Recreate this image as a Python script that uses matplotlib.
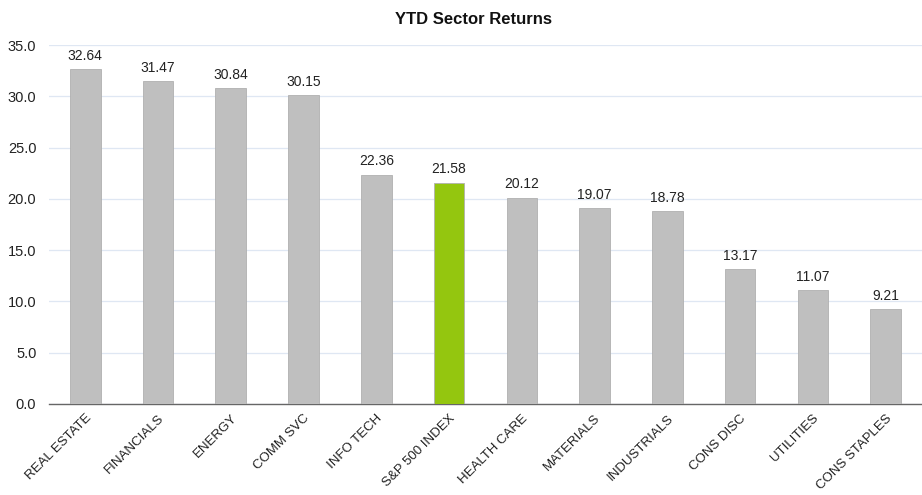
import matplotlib
matplotlib.use('Agg')
import matplotlib.pyplot as plt

plt.rcParams['font.family'] = ['Liberation Sans', 'DejaVu Sans']

sectors = ['REAL ESTATE', 'FINANCIALS', 'ENERGY', 'COMM SVC', 'INFO TECH',
           'S&P 500 INDEX', 'HEALTH CARE', 'MATERIALS', 'INDUSTRIALS',
           'CONS DISC', 'UTILITIES', 'CONS STAPLES']
returns = [32.64, 31.47, 30.84, 30.15, 22.36, 21.58, 20.12, 19.07, 18.78,
           13.17, 11.07, 9.21]
highlight = 'S&P 500 INDEX'

fig = plt.figure(figsize=(9.22, 4.95), dpi=100)
ax = fig.add_axes([0.053, 0.184, 0.947, 0.725])

colors = ['#94c60f' if s == highlight else '#bfbfbf' for s in sectors]
x = range(len(sectors))
bars = ax.bar(x, returns, width=0.42, color=colors, edgecolor='#b0b0b0',
              linewidth=0.6, zorder=3)

for b, v in zip(bars, returns):
    ax.text(b.get_x() + b.get_width() / 2, v + 0.6, f'{v:.2f}',
            ha='center', va='bottom', fontsize=10, color='#222222')

ax.set_xlim(-0.5, len(sectors) - 0.5)
ax.set_ylim(0, 35)
ax.set_yticks([0, 5, 10, 15, 20, 25, 30, 35])
ax.set_yticklabels([f'{t:.1f}' for t in ax.get_yticks()], fontsize=10.5)
ax.yaxis.grid(True, color='#dfe7f3', linewidth=0.9, zorder=0)
ax.set_xticks(list(x))
ax.set_xticklabels(sectors, rotation=45, ha='right', rotation_mode='anchor',
                   fontsize=9.5)
ax.tick_params(axis='both', length=0, colors='#222222')
ax.tick_params(axis='y', pad=9)
ax.tick_params(axis='x', pad=6)

for side in ['top', 'right', 'left']:
    ax.spines[side].set_visible(False)
ax.spines['bottom'].set_color('#666666')
ax.spines['bottom'].set_linewidth(1.0)

fig.text(0.5136, 1 - 20 / 495, 'YTD Sector Returns', fontsize=12,
         fontweight='bold', ha='center', va='center', color='#111111')

fig.savefig('out.png', dpi=100)
